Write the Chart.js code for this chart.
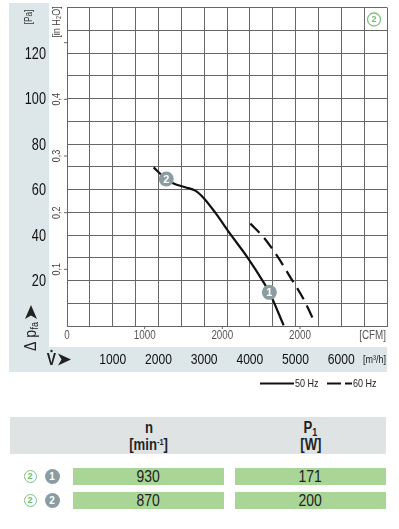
<!DOCTYPE html>
<html>
<head>
<meta charset="utf-8">
<script src="https://cdn.jsdelivr.net/npm/chart.js@4/dist/chart.umd.min.js"></script>
<style>
  html,body{margin:0;padding:0;background:#fff;}
  body{width:399px;height:529px;position:relative;overflow:hidden;font-family:"Liberation Sans",Arial,sans-serif;color:#222;}
  #c{position:absolute;left:0;top:0;}
  .abs{position:absolute;}
  .cx{display:inline-block;transform:scaleX(0.82);transform-origin:center;}
  .hdr{left:10px;top:417px;width:376px;height:37px;background:#dfe3e4;}
  .ht{font-weight:bold;font-size:16px;text-align:center;line-height:17px;}
  .bar{background:#a9d697;height:17px;font-size:17px;line-height:17px;text-align:center;color:#222;}
  .gc{width:11px;height:11px;border:1.4px solid #7cc47f;border-radius:50%;color:#6cbf70;font-size:9px;font-weight:bold;text-align:center;line-height:11px;box-sizing:content-box;}
  .bc{width:15px;height:15px;border-radius:50%;background:#8b9ca2;color:#fff;font-size:10px;font-weight:bold;text-align:center;line-height:15px;}
</style>
</head>
<body>
<canvas id="c" width="399" height="395"></canvas>
<div id="table"></div>
<script>
// ---- data ----
const flow50 = [1895, 2172, 2332, 2588, 2807, 2988, 3244, 3550, 3950, 4301, 4426, 4739];   // m3/h
const pres50 = [69.7, 64.6, 62.6, 61.0, 59.5, 56.3, 49.8, 41.0, 30.1, 19.2, 14.8, 0.3];    // Pa
const flow60 = [4010, 4300, 4590, 4880, 5170, 5420];
const pres60 = [45.0, 39.0, 31.0, 21.6, 12.0, 1.5];
const opFlow = [4426, 2172];
const opPres = [14.8, 64.6];
const opLabels = ['1', '2'];
const flowTicks = [1000, 2000, 3000, 4000, 5000, 6000];
const paTicks = [20, 40, 60, 80, 100, 120];
const cfmTicks = [0, 1000, 2000, 3000];
const cfmTickLabels = ['0', '1000', '2000', '2000'];
const inh2oTicks = [0.1, 0.2, 0.3, 0.4, 0.5];
const inh2oTickLabels = ['0,1', '0,2', '0,3', '0,4', ''];
const legendLabels = ['50 Hz', '60 Hz'];
const tableRowsCurve = ['1', '2'];
const tableN = [930, 870];
const tableP = [171, 200];

const M3H_PER_CFM = 1.699;
const PA_PER_INH2O = 249.089;
const FONT = '"Liberation Sans", Arial, sans-serif';
const GRID = '#666';
const SX = 0.82;

const pts = (xs, ys) => xs.map((x, i) => ({x, y: ys[i]}));

// condensed text helper
function ctext(ctx, text, x, y, size, opts = {}) {
  ctx.save();
  ctx.translate(x, y);
  if (opts.rot) ctx.rotate(opts.rot);
  ctx.scale(opts.sx || SX, 1);
  ctx.font = (opts.weight || 'normal') + ' ' + size + 'px ' + FONT;
  ctx.fillStyle = opts.color || '#222';
  ctx.textAlign = opts.align || 'center';
  ctx.textBaseline = 'middle';
  ctx.fillText(text, 0, 0);
  const w = ctx.measureText(text).width * (opts.sx || SX);
  ctx.restore();
  return w;
}

const deco = {
  id: 'deco',
  beforeDraw(chart) {
    const ctx = chart.ctx;
    ctx.save();
    ctx.fillStyle = '#fff';
    ctx.fillRect(0, 0, chart.width, chart.height);
    ctx.fillStyle = '#dde6e9';
    ctx.fillRect(9, 3, 40, 369);
    ctx.fillRect(9, 347, 378, 25);
    ctx.restore();
  },
  afterDraw(chart) {
    const ctx = chart.ctx;
    const xs = chart.scales.x, ys = chart.scales.y;
    const area = chart.chartArea;
    ctx.save();
    // Pa tick labels
    paTicks.forEach(v => ctext(ctx, String(v), 46, ys.getPixelForValue(v) + 1, 16.5, {align: 'right', color: '#111', sx: 0.77}));
    // m3/h tick labels
    flowTicks.forEach(v => ctext(ctx, String(v), xs.getPixelForValue(v), 360, 15.5, {color: '#111', sx: 0.78}));
    ctext(ctx, '[m³/h]', 386, 360, 11, {align: 'right'});
    // CFM labels
    ctx.strokeStyle = GRID;
    ctx.lineWidth = 1;
    cfmTicks.forEach((v, i) => {
      const px = xs.getPixelForValue(v * M3H_PER_CFM);
      ctext(ctx, cfmTickLabels[i], px, 336, 12, {color: '#555'});
      if (v > 0) { ctx.beginPath(); ctx.moveTo(px, area.bottom); ctx.lineTo(px, area.bottom + 3); ctx.stroke(); }
    });
    ctext(ctx, '[CFM]', 386, 336, 12, {align: 'right', color: '#555'});
    // inH2O labels
    inh2oTicks.forEach((v, i) => {
      const py = ys.getPixelForValue(v * PA_PER_INH2O);
      ctx.beginPath(); ctx.moveTo(area.left - 3, py); ctx.lineTo(area.left, py); ctx.stroke();
      if (inh2oTickLabels[i]) ctext(ctx, inh2oTickLabels[i], 57, py, 11, {rot: -Math.PI / 2, color: '#444'});
    });
    ctext(ctx, '[in H₂O]', 57, 22, 11, {rot: -Math.PI / 2, color: '#444'});
    // [Pa]
    ctext(ctx, '[Pa]', 29, 17, 10, {rot: -Math.PI / 2, color: '#333'});
    // Δ p fa arrow
    ctx.save(); ctx.translate(31, 351); ctx.rotate(-Math.PI / 2);
    const w1 = ctext(ctx, 'Δ p', 0, 0, 17, {align: 'left'});
    ctext(ctx, 'fa', w1 + 0.5, 4, 11, {align: 'left'});
    ctx.restore();
    ctx.fillStyle = '#222';
    ctx.beginPath(); ctx.moveTo(31, 305); ctx.lineTo(37, 319); ctx.lineTo(31, 315.5); ctx.lineTo(25, 319); ctx.closePath(); ctx.fill();
    // V dot arrow
    ctext(ctx, 'V', 51.5, 360.5, 17, {weight: 'bold'});
    ctx.fillStyle = '#222';
    ctx.beginPath(); ctx.arc(51.5, 351, 1.2, 0, Math.PI * 2); ctx.fill();
    ctx.beginPath(); ctx.moveTo(71, 359.5); ctx.lineTo(58, 353.5); ctx.lineTo(61.5, 359.5); ctx.lineTo(58, 365.5); ctx.closePath(); ctx.fill();
    // badges text on curve
    const meta = chart.getDatasetMeta(2);
    meta.data.forEach((el, i) => ctext(ctx, opLabels[i], el.x, el.y + 0.5, 11, {weight: 'bold', color: '#fff', sx: 1}));
    // green circled 2
    ctx.strokeStyle = '#7cc47f'; ctx.lineWidth = 1.3;
    ctx.beginPath(); ctx.arc(374, 19.5, 6.5, 0, Math.PI * 2); ctx.stroke();
    ctext(ctx, '2', 374, 20, 9, {weight: 'bold', color: '#6cbf70', sx: 1});
    // legend
    const ly = 383.5;
    ctx.strokeStyle = '#111'; ctx.lineWidth = 2;
    ctx.beginPath(); ctx.moveTo(260, ly); ctx.lineTo(294, ly); ctx.stroke();
    ctext(ctx, legendLabels[0], 295, ly, 11, {align: 'left'});
    ctx.beginPath(); ctx.moveTo(327, ly); ctx.lineTo(341, ly); ctx.moveTo(345, ly); ctx.lineTo(352, ly); ctx.stroke();
    ctext(ctx, legendLabels[1], 353, ly, 11, {align: 'left'});
    ctx.restore();
  }
};

const fixPad = s => { s.paddingTop = 0; s.paddingBottom = 0; s.paddingLeft = 0; s.paddingRight = 0; };

const chart = new Chart(document.getElementById('c'), {
  type: 'line',
  data: {
    datasets: [
      { label: legendLabels[0], data: pts(flow50, pres50), borderColor: '#111', borderWidth: 2.2, pointRadius: 0, cubicInterpolationMode: 'monotone', fill: false, order: 1 },
      { label: legendLabels[1], data: pts(flow60, pres60), borderColor: '#111', borderWidth: 2.2, borderDash: [13, 7], pointRadius: 0, cubicInterpolationMode: 'monotone', fill: false, order: 1 },
      { label: 'op', data: pts(opFlow, opPres), showLine: false, pointRadius: 7.5, pointBackgroundColor: '#8b9ca2', pointBorderWidth: 0, order: -1 }
    ]
  },
  options: {
    responsive: false,
    animation: false,
    devicePixelRatio: 1,
    layout: { padding: { left: 0, right: 12, top: 5, bottom: 0 } },
    plugins: { legend: { display: false }, tooltip: { enabled: false } },
    scales: {
      x: {
        type: 'linear', min: 0, max: 7000,
        afterFit(s) { s.height = 69; fixPad(s); },
        grid: { color: GRID, lineWidth: 1, drawTicks: false },
        border: { color: GRID, width: 1 },
        ticks: { stepSize: 500, display: false }
      },
      y: {
        type: 'linear', min: 0, max: 140,
        afterFit(s) { s.width = 67; fixPad(s); },
        grid: { color: GRID, lineWidth: 1, drawTicks: false },
        border: { color: GRID, width: 1 },
        ticks: { stepSize: 10, display: false }
      }
    }
  },
  plugins: [deco]
});
// keep plot area top at 5px
const dTop = chart.chartArea.top - 5;
if (Math.abs(dTop) > 0.5) { chart.options.layout.padding.top = 5 - dTop; chart.update(); }

// ---- table ----
const t = document.getElementById('table');
let html = '<div class="abs hdr"></div>' +
  '<div class="abs ht" style="left:73px;width:151px;top:419px;"><span class="cx">n</span><br><span class="cx">[min<sup style="font-size:9px;vertical-align:5px;line-height:0">-1</sup>]</span></div>' +
  '<div class="abs ht" style="left:235px;width:151px;top:419px;"><span class="cx">P<sub style="font-size:11px;vertical-align:-3px;line-height:0">1</sub></span><br><span class="cx">[W]</span></div>';
tableRowsCurve.forEach((c, i) => {
  const top = 468 + i * 24;
  html += `<div class="abs gc" style="left:23.5px;top:${top + 1.5}px;">2</div>`;
  html += `<div class="abs bc" style="left:44.5px;top:${top + 1}px;">${c}</div>`;
  html += `<div class="abs bar" style="left:73px;width:151px;top:${top}px;"><span class="cx">${tableN[i]}</span></div>`;
  html += `<div class="abs bar" style="left:235px;width:151px;top:${top}px;"><span class="cx">${tableP[i]}</span></div>`;
});
t.innerHTML = html;
</script>
</body>
</html>
